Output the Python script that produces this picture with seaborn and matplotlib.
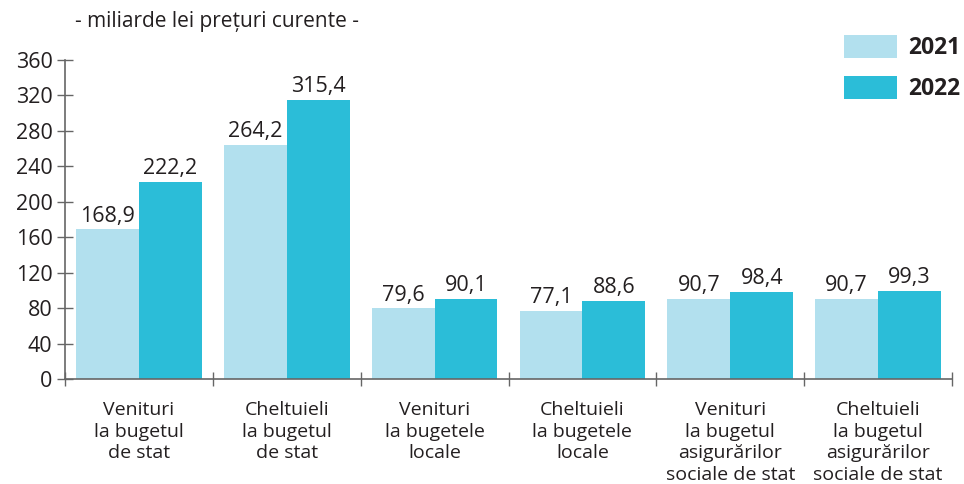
import pandas as pd
import seaborn as sns
import matplotlib.pyplot as plt
from matplotlib.ticker import FixedLocator

categories = [
    "Venituri\nla bugetul\nde stat",
    "Cheltuieli\nla bugetul\nde stat",
    "Venituri\nla bugetele\nlocale",
    "Cheltuieli\nla bugetele\nlocale",
    "Venituri\nla bugetul\nasigurărilor\nsociale de stat",
    "Cheltuieli\nla bugetul\nasigurărilor\nsociale de stat",
]
values_2021 = [168.9, 264.2, 79.6, 77.1, 90.7, 90.7]
values_2022 = [222.2, 315.4, 90.1, 88.6, 98.4, 99.3]
years = ["2021", "2022"]
colors = ["#b2e0ee", "#2bbdd8"]

df = pd.DataFrame({
    "cat": categories * 2,
    "year": [years[0]] * 6 + [years[1]] * 6,
    "val": values_2021 + values_2022,
})

sns.set_style("white")
plt.rcParams["font.family"] = ["Open Sans", "DejaVu Sans"]
axis_col = "#666666"
text_col = "#231f20"

fig = plt.figure(figsize=(9.64, 4.84), dpi=100)
ax = fig.add_axes([0.0674, 0.2169, 0.9202, 0.6591])

sns.barplot(data=df, x="cat", y="val", hue="year", palette=colors,
            width=0.85, gap=0, saturation=1, linewidth=0, ax=ax, legend=True)

for cont in ax.containers:
    ax.bar_label(cont, labels=[f"{v:.1f}".replace(".", ",") for v in cont.datavalues],
                 padding=2, fontsize=15.5, color=text_col)

ax.set_ylim(0, 360)
ax.set_xlim(-0.5, 5.5)
ax.set_yticks(range(0, 361, 40))
ax.tick_params(axis="y", left=True, direction="inout", length=12, width=1, color=axis_col,
               labelsize=15.5, labelcolor=text_col, pad=3)
ax.tick_params(axis="x", which="major", length=0, labelsize=14, labelcolor=text_col, pad=16)
ax.xaxis.set_minor_locator(FixedLocator([i - 0.5 for i in range(7)]))
ax.tick_params(axis="x", which="minor", bottom=True, direction="inout", length=10, width=1,
               color=axis_col)
ax.set_xlabel("")
ax.set_ylabel("")
for s in ["top", "right"]:
    ax.spines[s].set_visible(False)
for s in ["left", "bottom"]:
    ax.spines[s].set_color(axis_col)
    ax.spines[s].set_linewidth(1.2)
for lab in ax.get_xticklabels():
    lab.set_horizontalalignment("center")
    lab.set_verticalalignment("top")
    lab.set_linespacing(1.25)

handles, labels = ax.get_legend_handles_labels()
ax.legend(handles, labels, loc="upper left", bbox_to_anchor=(0.858, 1.135),
          frameon=False, handlelength=2.3, handleheight=1.15, labelspacing=0.69,
          handletextpad=0.5, borderpad=0.3, prop={"size": 16.5, "weight": "bold"})
for t in ax.get_legend().get_texts():
    t.set_color(text_col)

fig.text(0.078, 0.955, "- miliarde lei prețuri curente -", fontsize=15,
         color=text_col, ha="left", va="center")

fig.savefig("out.png", dpi=100)
